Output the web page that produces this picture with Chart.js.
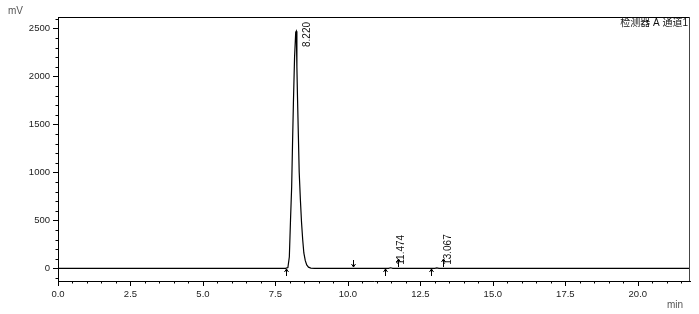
<!DOCTYPE html>
<html>
<head>
<meta charset="utf-8">
<script src="https://cdn.jsdelivr.net/npm/chart.js@4.4.1/dist/chart.umd.min.js"></script>
<style>
    html, body { margin: 0; padding: 0; background: #fff; }
    #wrap { width: 699px; height: 314px; }
</style>
</head>
<body>
<div id="wrap"><canvas id="chromChart" width="699" height="314"></canvas></div>
<script>
// retention time (min) and detector signal (mV)
const timeMin = [0, 7.85, 7.93, 7.98, 8.02, 8.06, 8.09, 8.12, 8.16, 8.20, 8.22, 8.24, 8.26, 8.29, 8.32, 8.36, 8.40, 8.44, 8.48, 8.53, 8.58, 8.64, 8.72, 8.85, 11.40, 11.474, 11.55, 13.00, 13.067, 13.14, 21.8];
const signalMv = [0, 0, 8, 120, 500, 850, 1300, 1720, 2200, 2460, 2470, 2100, 1800, 1400, 1000, 720, 480, 300, 160, 80, 35, 12, 3, 0, 0, 6, 0, 0, 5, 0, 0];

const xMajorTicks = [0, 2.5, 5, 7.5, 10, 12.5, 15, 17.5, 20];
const yMajorTicks = [0, 500, 1000, 1500, 2000, 2500];

const peakTimes = [8.22, 11.474, 13.067];
const peakHeights = [2470, 6, 5];
const peakLabels = ['8.220', '11.474', '13.067'];

// integration marks on the baseline
const upMarks = [7.85, 11.28, 12.88];     // below the line, pointing up
const downMarks = [10.16];                // above the line, pointing down
const riseMarks = [11.74, 13.29];         // above the line, pointing up

const channelName = '检测器 A 通道1';

const FONT = '"Liberation Sans", Arial, "Noto Sans CJK SC", sans-serif';

const chromDecor = {
    id: 'chromDecor',
    afterDraw(chart) {
        const { ctx, chartArea: area, scales: { x, y } } = chart;
        ctx.save();
        ctx.strokeStyle = '#000';
        ctx.lineWidth = 1;

        // box top / right
        ctx.beginPath();
        ctx.moveTo(area.left, area.top + 0.5);
        ctx.lineTo(area.right, area.top + 0.5);
        ctx.stroke();
        ctx.strokeStyle = '#444';
        ctx.beginPath();
        ctx.moveTo(area.right - 0.5, area.top);
        ctx.lineTo(area.right - 0.5, area.bottom);
        ctx.stroke();

        // tick marks, major and minor
        ctx.strokeStyle = '#000';
        ctx.beginPath();
        for (let v = 0; v <= 21.5 + 1e-6; v += 0.5) {
            const px = Math.round(x.getPixelForValue(v)) + 0.5;
            const len = xMajorTicks.includes(Math.round(v * 10) / 10) ? 5 : 2.5;
            ctx.moveTo(px, area.bottom);
            ctx.lineTo(px, area.bottom + len);
        }
        for (let v = -100; v <= 2600; v += 100) {
            const py = Math.round(y.getPixelForValue(v)) + 0.5;
            const len = yMajorTicks.includes(v) ? 5 : 2.5;
            ctx.moveTo(area.left, py);
            ctx.lineTo(area.left - len, py);
        }
        ctx.stroke();

        // baseline arrows
        const base = Math.round(y.getPixelForValue(0));
        const arrow = (t, from, to) => {
            const px = Math.round(x.getPixelForValue(t)) + 0.5;
            const dir = Math.sign(to - from);
            ctx.moveTo(px, base + from);
            ctx.lineTo(px, base + to);
            ctx.moveTo(px - 2, base + to - 3 * dir);
            ctx.lineTo(px, base + to);
            ctx.lineTo(px + 2, base + to - 3 * dir);
        };
        ctx.beginPath();
        upMarks.forEach(t => arrow(t, 8, 1));
        downMarks.forEach(t => arrow(t, -8, -1));
        riseMarks.forEach(t => arrow(t, -1, -9));
        ctx.stroke();

        // peak retention labels, rotated
        ctx.fillStyle = '#111';
        ctx.font = '10px ' + FONT;
        ctx.textAlign = 'left';
        ctx.textBaseline = 'middle';
        peakLabels.forEach((lbl, i) => {
            const px = x.getPixelForValue(peakTimes[i]) + 11;
            const w = ctx.measureText(lbl).width;
            let start = y.getPixelForValue(peakHeights[i]) - 3;
            if (start - w < area.top + 5) start = area.top + 5 + w;
            ctx.save();
            ctx.translate(px, start);
            ctx.rotate(-Math.PI / 2);
            ctx.fillText(lbl, 0, 0);
            ctx.restore();
        });

        // channel name
        ctx.textAlign = 'right';
        ctx.fillText(chart.data.datasets[0].label, area.right - 2, area.top + 6);

        // units
        ctx.fillStyle = '#555';
        ctx.textAlign = 'left';
        ctx.fillText('mV', 8, 11);
        ctx.textAlign = 'right';
        ctx.fillText('min', 683, 305);
        ctx.restore();
    }
};

const tickFont = { family: FONT, size: 9.5 };

new Chart(document.getElementById('chromChart'), {
    type: 'scatter',
    data: {
        datasets: [{
            label: channelName,
            data: timeMin.map((t, i) => ({ x: t, y: signalMv[i] })),
            showLine: true,
            borderColor: '#000',
            borderWidth: 1.2,
            pointRadius: 0,
            tension: 0
        }]
    },
    options: {
        responsive: false,
        animation: false,
        layout: { padding: { top: 17, right: 9, left: 0, bottom: 0 } },
        plugins: {
            legend: { display: false },
            tooltip: { enabled: false }
        },
        scales: {
            x: {
                type: 'linear',
                min: 0,
                max: 21.8,
                afterBuildTicks: scale => { scale.ticks = xMajorTicks.map(v => ({ value: v })); },
                afterFit: scale => { scale.height = 33; },
                grid: { display: false, drawTicks: false },
                border: { display: true, color: '#000', width: 1 },
                ticks: {
                    font: tickFont,
                    color: '#222',
                    padding: 8,
                    maxRotation: 0,
                    callback: v => Number(v).toFixed(1)
                }
            },
            y: {
                type: 'linear',
                min: -132,
                max: 2618,
                afterBuildTicks: scale => { scale.ticks = yMajorTicks.map(v => ({ value: v })); },
                afterFit: scale => { scale.width = 58; },
                grid: { display: false, drawTicks: false },
                border: { display: true, color: '#000', width: 1 },
                ticks: {
                    font: tickFont,
                    color: '#222',
                    padding: 8,
                    callback: v => String(v)
                }
            }
        }
    },
    plugins: [chromDecor]
});
</script>
</body>
</html>
